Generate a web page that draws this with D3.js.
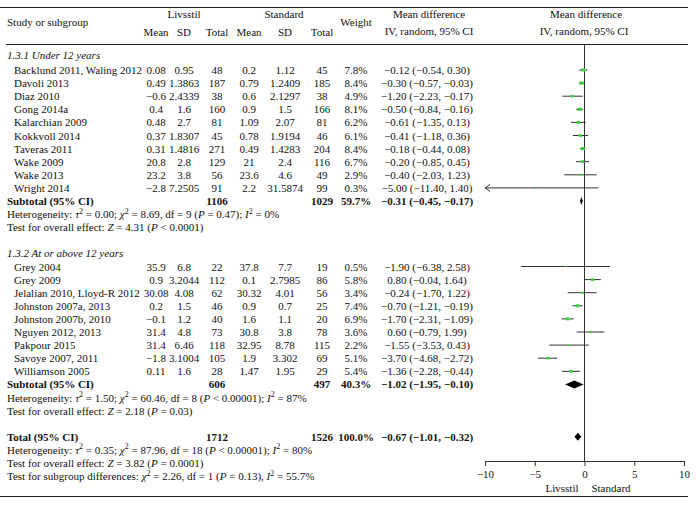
<!DOCTYPE html>
<html><head><meta charset="utf-8">
<script src="https://cdn.jsdelivr.net/npm/d3@7"></script>
<style>
html,body{margin:0;padding:0;background:#fff;}
svg text{font-family:"Liberation Serif","Times New Roman",serif;font-size:11px;fill:#111;}
</style></head>
<body>
<svg id="chart" width="696" height="505"></svg>
<script>
// ---------- DATA ----------
const studies1 = ["Backlund 2011, Waling 2012","Davoli 2013","Diaz 2010","Gong 2014a","Kalarchian 2009","Kokkvoll 2014","Taveras 2011","Wake 2009","Wake 2013","Wright 2014"];
const meanL1 = ["0.08","0.49","−0.6","0.4","0.48","0.37","0.31","20.8","23.2","−2.8"];
const sdL1 = ["0.95","1.3863","2.4339","1.6","2.7","1.8307","1.4816","2.8","3.8","7.2505"];
const totL1 = [48,187,38,160,81,45,271,129,56,91];
const meanS1 = ["0.2","0.79","0.6","0.9","1.09","0.78","0.49","21","23.6","2.2"];
const sdS1 = ["1.12","1.2409","2.1297","1.5","2.07","1.9194","1.4283","2.4","4.6","31.5874"];
const totS1 = [45,185,38,166,81,46,204,116,49,99];
const weight1 = [7.8,8.4,4.9,8.1,6.2,6.1,8.4,6.7,2.9,0.3];
const md1 = [-0.12,-0.30,-1.20,-0.50,-0.61,-0.41,-0.18,-0.20,-0.40,-5.00];
const lo1 = [-0.54,-0.57,-2.23,-0.84,-1.35,-1.18,-0.44,-0.85,-2.03,-11.40];
const hi1 = [0.30,-0.03,-0.17,-0.16,0.13,0.36,0.08,0.45,1.23,1.40];

const studies2 = ["Grey 2004","Grey 2009","Jelalian 2010, Lloyd-R 2012","Johnston 2007a, 2013","Johnston 2007b, 2010","Nguyen 2012, 2013","Pakpour 2015","Savoye 2007, 2011","Williamson 2005"];
const meanL2 = ["35.9","0.9","30.08","0.2","−0.1","31.4","31.4","−1.8","0.11"];
const sdL2 = ["6.8","3.2044","4.08","1.5","1.2","4.8","6.46","3.1004","1.6"];
const totL2 = [22,112,62,46,40,73,118,105,28];
const meanS2 = ["37.8","0.1","30.32","0.9","1.6","30.8","32.95","1.9","1.47"];
const sdS2 = ["7.7","2.7985","4.01","0.7","1.1","3.8","8.78","3.302","1.95"];
const totS2 = [19,86,56,25,20,78,115,69,29];
const weight2 = [0.5,5.8,3.4,7.4,6.9,3.6,2.2,5.1,5.4];
const md2 = [-1.90,0.80,-0.24,-0.70,-1.70,0.60,-1.55,-3.70,-1.36];
const lo2 = [-6.38,-0.04,-1.70,-1.21,-2.31,-0.79,-3.53,-4.68,-2.28];
const hi2 = [2.58,1.64,1.22,-0.19,-1.09,1.99,0.43,-2.72,-0.44];

const pooledLabels = ["Subtotal (95% CI)","Subtotal (95% CI)","Total (95% CI)"];
const pooledTotL = [1106,606,1712];
const pooledTotS = [1029,497,1526];
const pooledWeight = [59.7,40.3,100.0];
const pooledMd = [-0.31,-1.02,-0.67];
const pooledLo = [-0.45,-1.95,-1.01];
const pooledHi = [-0.17,-0.10,-0.32];

const groupTitles = ["1.3.1 Under 12 years","1.3.2 At or above 12 years"];
const xTicks = [-10,-5,0,5,10];
const favourLabels = ["Livsstil","Standard"];

// stats lines: segments [text, italic, superscript]
const het1 = [["Heterogeneity: "],["τ",1],["2",0,1],[" = 0.00; "],["χ",1],["2",0,1],[" = 8.69, df = 9 ("],["P",1],[" = 0.47); "],["I",1],["2",0,1],[" = 0%"]];
const eff1 = [["Test for overall effect: "],["Z",1],[" = 4.31 ("],["P",1],[" < 0.0001)"]];
const het2 = [["Heterogeneity: "],["τ",1],["2",0,1],[" = 1.50; "],["χ",1],["2",0,1],[" = 60.46, df = 8 ("],["P",1],[" < 0.00001); "],["I",1],["2",0,1],[" = 87%"]];
const eff2 = [["Test for overall effect: "],["Z",1],[" = 2.18 ("],["P",1],[" = 0.03)"]];
const hetT = [["Heterogeneity: "],["τ",1],["2",0,1],[" = 0.35; "],["χ",1],["2",0,1],[" = 87.96, df = 18 ("],["P",1],[" < 0.00001); "],["I",1],["2",0,1],[" = 80%"]];
const effT = [["Test for overall effect: "],["Z",1],[" = 3.82 ("],["P",1],[" = 0.0001)"]];
const subT = [["Test for subgroup differences: "],["χ",1],["2",0,1],[" = 2.26, df = 1 ("],["P",1],[" = 0.13), "],["I",1],["2",0,1],[" = 55.7%"]];

// ---------- LAYOUT ----------
const svg = d3.select("#chart");
const x = d3.scaleLinear().domain([-10,10]).range([485,684]);
const rowY0 = 70, rowH = 13.1;
const rowY = i => rowY0 + rowH*i;
const axisY = 461;
const col = {study:14, sec:7, meanL:156, sdL:184, totL:217, meanS:249, sdS:285, totS:322, weight:356, md:427};
const fmt2 = v => d3.format(".2f")(v).replace(/-/g,"−");
const ciText = (m,l,h) => `${fmt2(m)} (${fmt2(l)}, ${fmt2(h)})`;
const BL = 4; // baseline offset from row centre

function txt(xp, yc, s, anchor="start", bold=false, italic=false){
  return svg.append("text").attr("x",xp).attr("y",yc+BL).attr("text-anchor",anchor)
    .style("font-weight",bold?"bold":"normal").style("font-style",italic?"italic":"normal").text(s);
}
function rich(xp, yc, segs){
  const t = svg.append("text").attr("x",xp).attr("y",yc+BL);
  segs.forEach((sg,i)=>{
    const ts = t.append("tspan").text(sg[0]);
    if(sg[1]) ts.style("font-style","italic");
    if(sg[2]) ts.attr("dy",-4.5).style("font-size","8px");
    const prev = i>0 ? segs[i-1] : null;
    if(!sg[2] && prev && prev[2]) ts.attr("dy",4.5);
  });
}

// rules
svg.append("line").attr("x1",0).attr("x2",688).attr("y1",7.5).attr("y2",7.5).attr("stroke","#222");
svg.append("line").attr("x1",6).attr("x2",688).attr("y1",44.5).attr("y2",44.5).attr("stroke","#222");
svg.append("line").attr("x1",0).attr("x2",688).attr("y1",496.5).attr("y2",496.5).attr("stroke","#222");

// headers
txt(col.sec, 22, "Study or subgroup");
txt(184, 14, "Livsstil", "middle");
txt(284, 14, "Standard", "middle");
[["Mean",col.meanL],["SD",col.sdL],["Total",col.totL],["Mean",col.meanS],["SD",col.sdS],["Total",col.totS]]
  .forEach(([s,xp])=>txt(xp, 32, s, "middle"));
txt(col.weight, 22, "Weight", "middle");
txt(429, 14, "Mean difference", "middle");
txt(429, 31, "IV, random, 95% CI", "middle");
txt(586, 14, "Mean difference", "middle");
txt(584, 31, "IV, random, 95% CI", "middle");

// zero line
svg.append("line").attr("x1",x(0)).attr("x2",x(0)).attr("y1",45).attr("y2",axisY).attr("stroke","#333");

function studyRows(startRow, names, mL, sL, tL, mS, sS, tS, w, md, lo, hi){
  names.forEach((n,i)=>{
    const y = rowY(startRow+i);
    txt(col.study, y, n);
    txt(col.meanL, y, mL[i], "middle");
    txt(col.sdL, y, sL[i], "middle");
    txt(col.totL, y, tL[i], "middle");
    txt(col.meanS, y, mS[i], "middle");
    txt(col.sdS, y, sS[i], "middle");
    txt(col.totS, y, tS[i], "middle");
    txt(col.weight, y, d3.format(".1f")(w[i])+"%", "middle");
    txt(col.md, y, ciText(md[i],lo[i],hi[i]), "middle");
    const l = Math.max(lo[i], -10), h = Math.min(hi[i], 10);
    svg.append("line").attr("x1",x(l)).attr("x2",x(h)).attr("y1",y).attr("y2",y)
      .attr("stroke","#333").attr("stroke-width",1);
    if(lo[i] < -10){
      svg.append("path").attr("d",`M${x(-10)+5},${y-3.5} L${x(-10)},${y} L${x(-10)+5},${y+3.5}`)
        .attr("fill","none").attr("stroke","#333");
    }
    const s = Math.max(1.5, Math.sqrt(w[i])*1.4);
    svg.append("rect").attr("x",x(md[i])-s/2).attr("y",y-s*0.4).attr("width",s).attr("height",s*0.8)
      .attr("fill","#3cd23c");
  });
}
function pooledRow(r, k){
  const y = rowY(r);
  txt(col.sec, y, pooledLabels[k], "start", true);
  txt(col.totL, y, pooledTotL[k], "middle", true);
  txt(col.totS, y, pooledTotS[k], "middle", true);
  txt(col.weight, y, d3.format(".1f")(pooledWeight[k])+"%", "middle", true);
  txt(col.md, y, ciText(pooledMd[k],pooledLo[k],pooledHi[k]), "middle", true);
  const hh = 4;
  svg.append("path").attr("d",`M${x(pooledLo[k])},${y} L${x(pooledMd[k])},${y-hh} L${x(pooledHi[k])},${y} L${x(pooledMd[k])},${y+hh} Z`)
    .attr("fill","#000");
}

// group 1
txt(col.sec, rowY(-1.15), groupTitles[0], "start", false, true);
studyRows(0, studies1, meanL1, sdL1, totL1, meanS1, sdS1, totS1, weight1, md1, lo1, hi1);
pooledRow(10, 0);
rich(col.sec, rowY(11), het1);
rich(col.sec, rowY(12), eff1);

// group 2
txt(col.sec, rowY(14), groupTitles[1], "start", false, true);
studyRows(15, studies2, meanL2, sdL2, totL2, meanS2, sdS2, totS2, weight2, md2, lo2, hi2);
pooledRow(24, 1);
rich(col.sec, rowY(25), het2);
rich(col.sec, rowY(26), eff2);

// total
pooledRow(28, 2);
rich(col.sec, rowY(29), hetT);
rich(col.sec, rowY(30), effT);
rich(col.sec, rowY(31), subT);

// axis
const ax = svg.append("g").attr("transform",`translate(0,${axisY})`)
  .call(d3.axisBottom(x).tickValues(xTicks).tickSize(5).tickPadding(4).tickFormat(d=>String(d).replace("-","−")));
ax.select(".domain").attr("stroke","#333");
ax.selectAll(".tick line").attr("stroke","#333");
ax.selectAll(".tick text").style("font-family",'"Liberation Serif",serif').style("font-size","11px").attr("fill","#111");
txt(562, 488, favourLabels[0], "middle");
txt(611, 488, favourLabels[1], "middle");
</script>
</body></html>
